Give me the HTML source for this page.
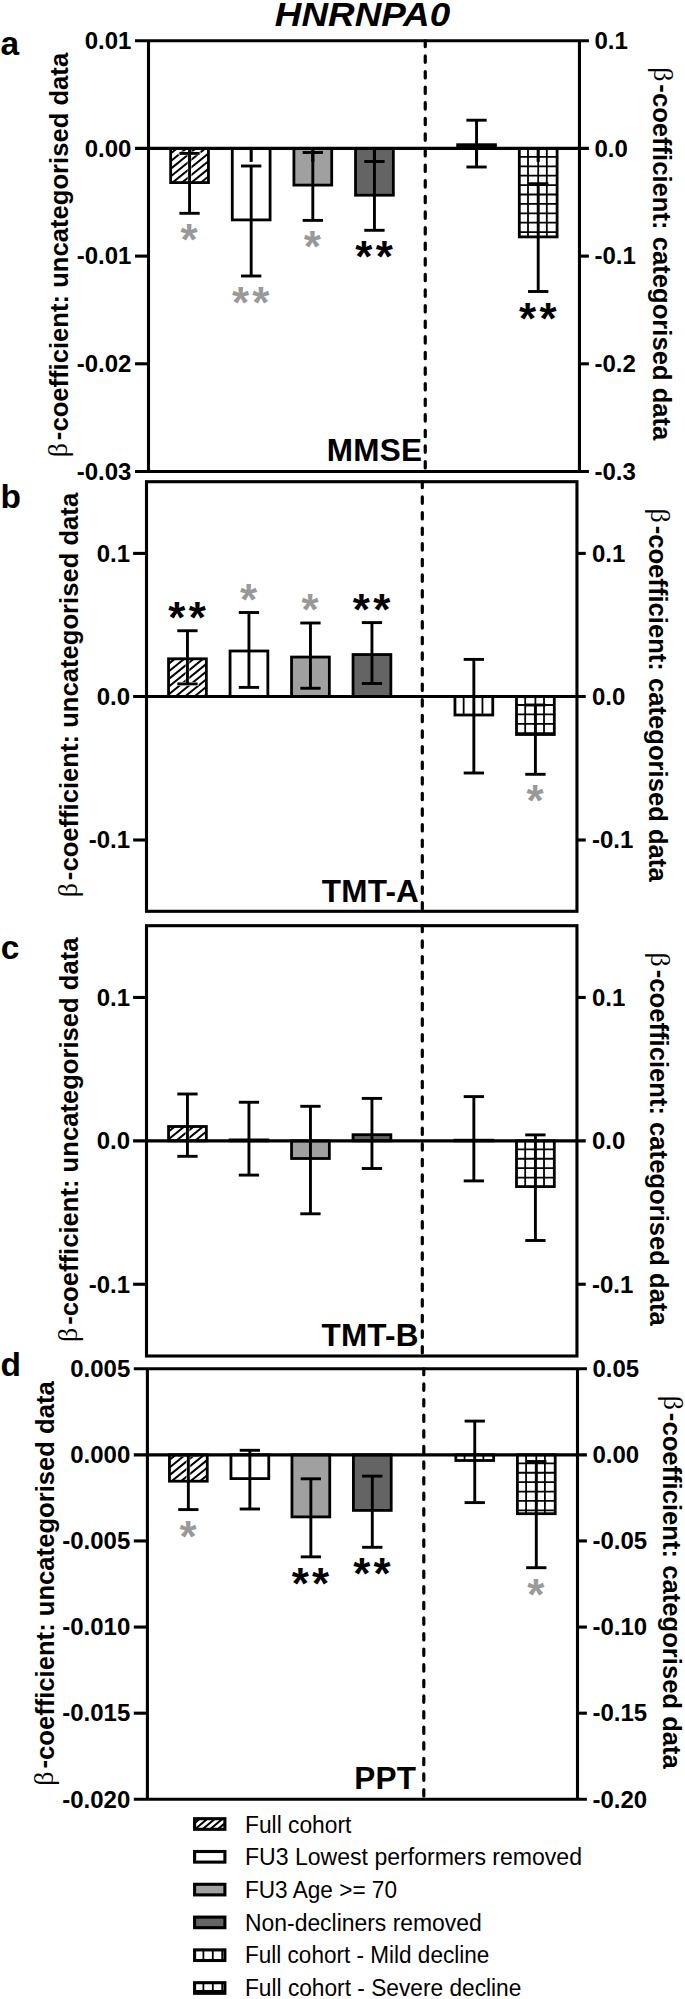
<!DOCTYPE html>
<html lang="en"><head><meta charset="utf-8"><title>HNRNPA0</title>
<style>
html,body{margin:0;padding:0;background:#fff;}
body{width:685px;height:1999px;overflow:hidden;}
svg{display:block;}
svg text{font-family:'Liberation Sans', Arial, Helvetica, sans-serif;}
</style></head><body>
<svg width="685" height="1999" viewBox="0 0 685 1999">
<rect width="685" height="1999" fill="#fff"/>
<text transform="translate(362.50,26.20) scale(1.084,1)" font-size="34" font-weight="bold" text-anchor="middle" fill="#000" style="font-style:italic">HNRNPA0</text>
<g id="panel-a">
<rect x="170.65" y="148.40" width="37.80" height="34.20" fill="#fff"/>
<clipPath id="cp1"><rect x="170.65" y="148.40" width="37.80" height="34.20"/></clipPath>
<g clip-path="url(#cp1)" stroke="#000" fill="none">
<path d="M169.25 147.00L211.85 112.50M169.25 154.65L211.85 120.15M169.25 162.30L211.85 127.80M169.25 169.95L211.85 135.45M169.25 177.60L211.85 143.10M169.25 185.25L211.85 150.75M169.25 192.90L211.85 158.40M169.25 200.55L211.85 166.05M169.25 208.20L211.85 173.70M169.25 215.85L211.85 181.35M169.25 223.50L211.85 189.00" stroke-width="2.0"/>
<path d="M189.55 153.40V213.30M178.50 153.40H200.60M178.50 213.30H200.60" stroke="#fff" stroke-width="3.8"/>
</g>
<rect x="170.65" y="148.40" width="37.80" height="34.20" fill="none" stroke="#000" stroke-width="2.8"/>
<line x1="189.55" y1="148.40" x2="189.55" y2="161.90" stroke="#000" stroke-width="3.1" />
<rect x="232.28" y="148.40" width="37.80" height="71.50" fill="#fff"/>
<rect x="232.28" y="148.40" width="37.80" height="71.50" fill="none" stroke="#000" stroke-width="2.8"/>
<line x1="251.18" y1="148.40" x2="251.18" y2="161.90" stroke="#000" stroke-width="3.1" />
<rect x="293.91" y="148.40" width="37.80" height="36.70" fill="#a0a0a0"/>
<rect x="293.91" y="148.40" width="37.80" height="36.70" fill="none" stroke="#000" stroke-width="2.8"/>
<line x1="312.81" y1="148.40" x2="312.81" y2="161.90" stroke="#000" stroke-width="3.1" />
<rect x="355.54" y="148.40" width="37.80" height="46.80" fill="#646464"/>
<rect x="355.54" y="148.40" width="37.80" height="46.80" fill="none" stroke="#000" stroke-width="2.8"/>
<line x1="374.44" y1="148.40" x2="374.44" y2="161.90" stroke="#000" stroke-width="3.1" />
<rect x="457.65" y="144.70" width="37.80" height="3.70" fill="#000"/>
<rect x="457.65" y="144.70" width="37.80" height="3.70" fill="none" stroke="#000" stroke-width="2.8"/>
<line x1="476.55" y1="148.40" x2="476.55" y2="161.90" stroke="#000" stroke-width="3.1" />
<rect x="519.30" y="148.40" width="37.80" height="88.50" fill="#fff"/>
<clipPath id="cp2"><rect x="519.30" y="148.40" width="37.80" height="88.50"/></clipPath>
<g clip-path="url(#cp2)" stroke="#000" fill="none">
<path d="M528.00 148.40V236.90M538.20 148.40V236.90M546.81 148.40V236.90M519.30 156.90H557.10M519.30 166.30H557.10M519.30 175.70H557.10M519.30 185.10H557.10M519.30 194.50H557.10M519.30 203.90H557.10M519.30 213.30H557.10M519.30 222.70H557.10M519.30 232.10H557.10" stroke-width="1.8"/>
</g>
<rect x="519.30" y="148.40" width="37.80" height="88.50" fill="none" stroke="#000" stroke-width="2.8"/>
<line x1="538.20" y1="148.40" x2="538.20" y2="161.90" stroke="#000" stroke-width="3.1" />
<line x1="135.00" y1="40.70" x2="588.90" y2="40.70" stroke="#000" stroke-width="3.1" />
<line x1="135.00" y1="471.50" x2="588.90" y2="471.50" stroke="#000" stroke-width="3.1" />
<line x1="148.50" y1="40.70" x2="148.50" y2="471.50" stroke="#000" stroke-width="3.1" />
<line x1="579.45" y1="40.70" x2="579.45" y2="471.50" stroke="#000" stroke-width="3.1" />
<line x1="135.00" y1="148.40" x2="588.90" y2="148.40" stroke="#000" stroke-width="3.1" />
<text transform="translate(131.40,49.00) scale(1.0,1)" font-size="24" font-weight="bold" text-anchor="end" fill="#000">0.01</text>
<text transform="translate(594.45,49.00) scale(1.0,1)" font-size="24" font-weight="bold" text-anchor="start" fill="#000">0.1</text>
<text transform="translate(131.40,156.70) scale(1.0,1)" font-size="24" font-weight="bold" text-anchor="end" fill="#000">0.00</text>
<text transform="translate(594.45,156.70) scale(1.0,1)" font-size="24" font-weight="bold" text-anchor="start" fill="#000">0.0</text>
<line x1="135.00" y1="256.10" x2="148.50" y2="256.10" stroke="#000" stroke-width="3.1" />
<line x1="579.45" y1="256.10" x2="588.90" y2="256.10" stroke="#000" stroke-width="3.1" />
<text transform="translate(131.40,264.40) scale(1.0,1)" font-size="24" font-weight="bold" text-anchor="end" fill="#000">-0.01</text>
<text transform="translate(594.45,264.40) scale(1.0,1)" font-size="24" font-weight="bold" text-anchor="start" fill="#000">-0.1</text>
<line x1="135.00" y1="363.80" x2="148.50" y2="363.80" stroke="#000" stroke-width="3.1" />
<line x1="579.45" y1="363.80" x2="588.90" y2="363.80" stroke="#000" stroke-width="3.1" />
<text transform="translate(131.40,372.10) scale(1.0,1)" font-size="24" font-weight="bold" text-anchor="end" fill="#000">-0.02</text>
<text transform="translate(594.45,372.10) scale(1.0,1)" font-size="24" font-weight="bold" text-anchor="start" fill="#000">-0.2</text>
<text transform="translate(131.40,479.80) scale(1.0,1)" font-size="24" font-weight="bold" text-anchor="end" fill="#000">-0.03</text>
<text transform="translate(594.45,479.80) scale(1.0,1)" font-size="24" font-weight="bold" text-anchor="start" fill="#000">-0.3</text>
<line x1="425.25" y1="40.900000000000006" x2="425.25" y2="471.5" stroke="#000" stroke-width="3.2" stroke-linecap="round" stroke-dasharray="6.4 9.2" stroke-dashoffset="0.6"/>
<line x1="189.55" y1="153.40" x2="189.55" y2="213.30" stroke="#000" stroke-width="2.9" />
<line x1="179.40" y1="153.40" x2="199.70" y2="153.40" stroke="#000" stroke-width="2.9" />
<line x1="179.40" y1="213.30" x2="199.70" y2="213.30" stroke="#000" stroke-width="2.9" />
<line x1="251.18" y1="166.00" x2="251.18" y2="276.00" stroke="#000" stroke-width="2.9" />
<line x1="241.03" y1="166.00" x2="261.33" y2="166.00" stroke="#000" stroke-width="2.9" />
<line x1="241.03" y1="276.00" x2="261.33" y2="276.00" stroke="#000" stroke-width="2.9" />
<line x1="312.81" y1="152.50" x2="312.81" y2="220.40" stroke="#000" stroke-width="2.9" />
<line x1="302.66" y1="152.50" x2="322.96" y2="152.50" stroke="#000" stroke-width="2.9" />
<line x1="302.66" y1="220.40" x2="322.96" y2="220.40" stroke="#000" stroke-width="2.9" />
<line x1="374.44" y1="161.50" x2="374.44" y2="230.30" stroke="#000" stroke-width="2.9" />
<line x1="364.29" y1="161.50" x2="384.59" y2="161.50" stroke="#000" stroke-width="2.9" />
<line x1="364.29" y1="230.30" x2="384.59" y2="230.30" stroke="#000" stroke-width="2.9" />
<line x1="476.55" y1="120.20" x2="476.55" y2="167.00" stroke="#000" stroke-width="2.9" />
<line x1="466.40" y1="120.20" x2="486.70" y2="120.20" stroke="#000" stroke-width="2.9" />
<line x1="466.40" y1="167.00" x2="486.70" y2="167.00" stroke="#000" stroke-width="2.9" />
<line x1="538.20" y1="183.70" x2="538.20" y2="291.50" stroke="#000" stroke-width="2.9" />
<line x1="528.05" y1="183.70" x2="548.35" y2="183.70" stroke="#000" stroke-width="2.9" />
<line x1="528.05" y1="291.50" x2="548.35" y2="291.50" stroke="#000" stroke-width="2.9" />
<text transform="translate(189.15,255.39) scale(1.0,1)" font-size="44" font-weight="bold" text-anchor="middle" fill="#999">*</text>
<text transform="translate(240.63,318.09) scale(1.0,1)" font-size="44" font-weight="bold" text-anchor="middle" fill="#999">*</text>
<text transform="translate(260.93,318.09) scale(1.0,1)" font-size="44" font-weight="bold" text-anchor="middle" fill="#999">*</text>
<text transform="translate(312.41,262.49) scale(1.0,1)" font-size="44" font-weight="bold" text-anchor="middle" fill="#999">*</text>
<text transform="translate(363.89,272.39) scale(1.0,1)" font-size="44" font-weight="bold" text-anchor="middle" fill="#000">*</text>
<text transform="translate(384.19,272.39) scale(1.0,1)" font-size="44" font-weight="bold" text-anchor="middle" fill="#000">*</text>
<text transform="translate(527.65,333.59) scale(1.0,1)" font-size="44" font-weight="bold" text-anchor="middle" fill="#000">*</text>
<text transform="translate(547.95,333.59) scale(1.0,1)" font-size="44" font-weight="bold" text-anchor="middle" fill="#000">*</text>
<text transform="translate(374.50,461.20) scale(1.0,1)" font-size="31.5" font-weight="bold" text-anchor="middle" fill="#000" letter-spacing="0.2">MMSE</text>
<text transform="translate(0.50,55.00) scale(1.0,1)" font-size="33.5" font-weight="bold" text-anchor="start" fill="#000">a</text>
<text transform="translate(68.0,457.3) rotate(-90)" font-size="25.63" font-weight="bold"><tspan font-family="'Liberation Serif','DejaVu Serif',serif" font-weight="normal" font-size="28" dy="-1.2">β</tspan><tspan dx="2.9" dy="-0.6">-</tspan><tspan dy="1.8">coefficient: uncategorised data</tspan></text>
<text transform="translate(653.0,67.2) rotate(90)" font-size="25.63" font-weight="bold"><tspan font-family="'Liberation Serif','DejaVu Serif',serif" font-weight="normal" font-size="28" dy="-1.2">β</tspan><tspan dx="2.9" dy="-0.6">-</tspan><tspan dy="1.8">coefficient: categorised data</tspan></text>
</g>
<g id="panel-b">
<rect x="168.55" y="658.80" width="37.80" height="37.70" fill="#fff"/>
<clipPath id="cp3"><rect x="168.55" y="658.80" width="37.80" height="37.70"/></clipPath>
<g clip-path="url(#cp3)" stroke="#000" fill="none">
<path d="M167.15 657.40L209.75 622.90M167.15 665.05L209.75 630.55M167.15 672.70L209.75 638.20M167.15 680.35L209.75 645.85M167.15 688.00L209.75 653.50M167.15 695.65L209.75 661.15M167.15 703.30L209.75 668.80M167.15 710.95L209.75 676.45M167.15 718.60L209.75 684.10M167.15 726.25L209.75 691.75M167.15 733.90L209.75 699.40M167.15 741.55L209.75 707.05" stroke-width="2.0"/>
<path d="M187.45 630.75V683.90M176.40 630.75H198.50M176.40 683.90H198.50" stroke="#fff" stroke-width="3.8"/>
</g>
<rect x="168.55" y="658.80" width="37.80" height="37.70" fill="none" stroke="#000" stroke-width="2.8"/>
<rect x="230.05" y="651.00" width="37.80" height="45.50" fill="#fff"/>
<rect x="230.05" y="651.00" width="37.80" height="45.50" fill="none" stroke="#000" stroke-width="2.8"/>
<rect x="291.55" y="657.05" width="37.80" height="39.45" fill="#a0a0a0"/>
<rect x="291.55" y="657.05" width="37.80" height="39.45" fill="none" stroke="#000" stroke-width="2.8"/>
<rect x="353.05" y="654.55" width="37.80" height="41.95" fill="#646464"/>
<rect x="353.05" y="654.55" width="37.80" height="41.95" fill="none" stroke="#000" stroke-width="2.8"/>
<rect x="454.95" y="696.50" width="37.80" height="18.50" fill="#fff"/>
<clipPath id="cp4"><rect x="454.95" y="696.50" width="37.80" height="18.50"/></clipPath>
<g clip-path="url(#cp4)" stroke="#000" fill="none">
<path d="M463.65 696.50V715.00M473.85 696.50V715.00M482.46 696.50V715.00" stroke-width="1.8"/>
</g>
<rect x="454.95" y="696.50" width="37.80" height="18.50" fill="none" stroke="#000" stroke-width="2.8"/>
<rect x="516.50" y="696.50" width="37.80" height="38.00" fill="#fff"/>
<clipPath id="cp5"><rect x="516.50" y="696.50" width="37.80" height="38.00"/></clipPath>
<g clip-path="url(#cp5)" stroke="#000" fill="none">
<path d="M525.20 696.50V734.50M535.40 696.50V734.50M544.01 696.50V734.50M516.50 705.00H554.30M516.50 714.40H554.30M516.50 723.80H554.30M516.50 733.20H554.30" stroke-width="1.8"/>
</g>
<rect x="516.50" y="696.50" width="37.80" height="38.00" fill="none" stroke="#000" stroke-width="2.8"/>
<rect x="146.5" y="481.7" width="430.45000000000005" height="429.59999999999997" fill="none" stroke="#000" stroke-width="3.1"/>
<line x1="133.10" y1="696.50" x2="585.75" y2="696.50" stroke="#000" stroke-width="3.1" />
<line x1="133.10" y1="553.40" x2="146.50" y2="553.40" stroke="#000" stroke-width="3.1" />
<line x1="576.95" y1="553.40" x2="585.75" y2="553.40" stroke="#000" stroke-width="3.1" />
<text transform="translate(130.00,561.70) scale(1.0,1)" font-size="24" font-weight="bold" text-anchor="end" fill="#000">0.1</text>
<text transform="translate(591.95,561.70) scale(1.0,1)" font-size="24" font-weight="bold" text-anchor="start" fill="#000">0.1</text>
<text transform="translate(130.00,704.80) scale(1.0,1)" font-size="24" font-weight="bold" text-anchor="end" fill="#000">0.0</text>
<text transform="translate(591.95,704.80) scale(1.0,1)" font-size="24" font-weight="bold" text-anchor="start" fill="#000">0.0</text>
<line x1="133.10" y1="840.00" x2="146.50" y2="840.00" stroke="#000" stroke-width="3.1" />
<line x1="576.95" y1="840.00" x2="585.75" y2="840.00" stroke="#000" stroke-width="3.1" />
<text transform="translate(130.00,848.30) scale(1.0,1)" font-size="24" font-weight="bold" text-anchor="end" fill="#000">-0.1</text>
<text transform="translate(591.95,848.30) scale(1.0,1)" font-size="24" font-weight="bold" text-anchor="start" fill="#000">-0.1</text>
<line x1="422.3" y1="481.9" x2="422.3" y2="911.3" stroke="#000" stroke-width="3.2" stroke-linecap="round" stroke-dasharray="6.4 9.2" stroke-dashoffset="0.6"/>
<line x1="187.45" y1="630.75" x2="187.45" y2="683.90" stroke="#000" stroke-width="2.9" />
<line x1="177.30" y1="630.75" x2="197.60" y2="630.75" stroke="#000" stroke-width="2.9" />
<line x1="177.30" y1="683.90" x2="197.60" y2="683.90" stroke="#000" stroke-width="2.9" />
<line x1="248.95" y1="612.50" x2="248.95" y2="687.40" stroke="#000" stroke-width="2.9" />
<line x1="238.80" y1="612.50" x2="259.10" y2="612.50" stroke="#000" stroke-width="2.9" />
<line x1="238.80" y1="687.40" x2="259.10" y2="687.40" stroke="#000" stroke-width="2.9" />
<line x1="310.45" y1="623.00" x2="310.45" y2="688.25" stroke="#000" stroke-width="2.9" />
<line x1="300.30" y1="623.00" x2="320.60" y2="623.00" stroke="#000" stroke-width="2.9" />
<line x1="300.30" y1="688.25" x2="320.60" y2="688.25" stroke="#000" stroke-width="2.9" />
<line x1="371.95" y1="622.60" x2="371.95" y2="683.50" stroke="#000" stroke-width="2.9" />
<line x1="361.80" y1="622.60" x2="382.10" y2="622.60" stroke="#000" stroke-width="2.9" />
<line x1="361.80" y1="683.50" x2="382.10" y2="683.50" stroke="#000" stroke-width="2.9" />
<line x1="473.85" y1="659.40" x2="473.85" y2="773.00" stroke="#000" stroke-width="2.9" />
<line x1="463.70" y1="659.40" x2="484.00" y2="659.40" stroke="#000" stroke-width="2.9" />
<line x1="463.70" y1="773.00" x2="484.00" y2="773.00" stroke="#000" stroke-width="2.9" />
<line x1="535.40" y1="705.00" x2="535.40" y2="774.30" stroke="#000" stroke-width="2.9" />
<line x1="525.25" y1="705.00" x2="545.55" y2="705.00" stroke="#000" stroke-width="2.9" />
<line x1="525.25" y1="774.30" x2="545.55" y2="774.30" stroke="#000" stroke-width="2.9" />
<text transform="translate(176.90,632.84) scale(1.0,1)" font-size="44" font-weight="bold" text-anchor="middle" fill="#000">*</text>
<text transform="translate(197.20,632.84) scale(1.0,1)" font-size="44" font-weight="bold" text-anchor="middle" fill="#000">*</text>
<text transform="translate(248.55,614.59) scale(1.0,1)" font-size="44" font-weight="bold" text-anchor="middle" fill="#999">*</text>
<text transform="translate(310.05,625.09) scale(1.0,1)" font-size="44" font-weight="bold" text-anchor="middle" fill="#999">*</text>
<text transform="translate(361.40,624.69) scale(1.0,1)" font-size="44" font-weight="bold" text-anchor="middle" fill="#000">*</text>
<text transform="translate(381.70,624.69) scale(1.0,1)" font-size="44" font-weight="bold" text-anchor="middle" fill="#000">*</text>
<text transform="translate(535.00,816.39) scale(1.0,1)" font-size="44" font-weight="bold" text-anchor="middle" fill="#999">*</text>
<text transform="translate(370.40,901.60) scale(1.0,1)" font-size="31.5" font-weight="bold" text-anchor="middle" fill="#000" letter-spacing="0.2">TMT-A</text>
<text transform="translate(0.50,508.00) scale(1.0,1)" font-size="33.5" font-weight="bold" text-anchor="start" fill="#000">b</text>
<text transform="translate(78.3,897.3) rotate(-90)" font-size="25.63" font-weight="bold"><tspan font-family="'Liberation Serif','DejaVu Serif',serif" font-weight="normal" font-size="28" dy="-1.2">β</tspan><tspan dx="2.9" dy="-0.6">-</tspan><tspan dy="1.8">coefficient: uncategorised data</tspan></text>
<text transform="translate(649.4,508.5) rotate(90)" font-size="25.63" font-weight="bold"><tspan font-family="'Liberation Serif','DejaVu Serif',serif" font-weight="normal" font-size="28" dy="-1.2">β</tspan><tspan dx="2.9" dy="-0.6">-</tspan><tspan dy="1.8">coefficient: categorised data</tspan></text>
</g>
<g id="panel-c">
<rect x="168.55" y="1126.50" width="37.80" height="14.35" fill="#fff"/>
<clipPath id="cp6"><rect x="168.55" y="1126.50" width="37.80" height="14.35"/></clipPath>
<g clip-path="url(#cp6)" stroke="#000" fill="none">
<path d="M167.15 1125.10L209.75 1090.60M167.15 1132.75L209.75 1098.25M167.15 1140.40L209.75 1105.90M167.15 1148.05L209.75 1113.55M167.15 1155.70L209.75 1121.20M167.15 1163.35L209.75 1128.85M167.15 1171.00L209.75 1136.50M167.15 1178.65L209.75 1144.15M167.15 1186.30L209.75 1151.80" stroke-width="2.0"/>
<path d="M187.45 1094.00V1156.30M176.40 1094.00H198.50M176.40 1156.30H198.50" stroke="#fff" stroke-width="3.8"/>
</g>
<rect x="168.55" y="1126.50" width="37.80" height="14.35" fill="none" stroke="#000" stroke-width="2.8"/>
<rect x="230.05" y="1139.90" width="37.80" height="0.95" fill="#fff"/>
<rect x="230.05" y="1139.90" width="37.80" height="0.95" fill="none" stroke="#000" stroke-width="2.8"/>
<rect x="291.55" y="1140.85" width="37.80" height="17.65" fill="#a0a0a0"/>
<rect x="291.55" y="1140.85" width="37.80" height="17.65" fill="none" stroke="#000" stroke-width="2.8"/>
<rect x="353.05" y="1134.70" width="37.80" height="6.15" fill="#646464"/>
<rect x="353.05" y="1134.70" width="37.80" height="6.15" fill="none" stroke="#000" stroke-width="2.8"/>
<rect x="454.95" y="1140.20" width="37.80" height="0.65" fill="#000"/>
<rect x="454.95" y="1140.20" width="37.80" height="0.65" fill="none" stroke="#000" stroke-width="2.8"/>
<rect x="516.50" y="1140.85" width="37.80" height="45.75" fill="#fff"/>
<clipPath id="cp7"><rect x="516.50" y="1140.85" width="37.80" height="45.75"/></clipPath>
<g clip-path="url(#cp7)" stroke="#000" fill="none">
<path d="M525.20 1140.85V1186.60M535.40 1140.85V1186.60M544.01 1140.85V1186.60M516.50 1149.35H554.30M516.50 1158.75H554.30M516.50 1168.15H554.30M516.50 1177.55H554.30" stroke-width="1.8"/>
</g>
<rect x="516.50" y="1140.85" width="37.80" height="45.75" fill="none" stroke="#000" stroke-width="2.8"/>
<rect x="146.5" y="925.7" width="430.45000000000005" height="430.29999999999995" fill="none" stroke="#000" stroke-width="3.1"/>
<line x1="133.10" y1="1140.85" x2="585.75" y2="1140.85" stroke="#000" stroke-width="3.1" />
<line x1="133.10" y1="997.45" x2="146.50" y2="997.45" stroke="#000" stroke-width="3.1" />
<line x1="576.95" y1="997.45" x2="585.75" y2="997.45" stroke="#000" stroke-width="3.1" />
<text transform="translate(130.00,1005.75) scale(1.0,1)" font-size="24" font-weight="bold" text-anchor="end" fill="#000">0.1</text>
<text transform="translate(591.95,1005.75) scale(1.0,1)" font-size="24" font-weight="bold" text-anchor="start" fill="#000">0.1</text>
<text transform="translate(130.00,1149.15) scale(1.0,1)" font-size="24" font-weight="bold" text-anchor="end" fill="#000">0.0</text>
<text transform="translate(591.95,1149.15) scale(1.0,1)" font-size="24" font-weight="bold" text-anchor="start" fill="#000">0.0</text>
<line x1="133.10" y1="1284.25" x2="146.50" y2="1284.25" stroke="#000" stroke-width="3.1" />
<line x1="576.95" y1="1284.25" x2="585.75" y2="1284.25" stroke="#000" stroke-width="3.1" />
<text transform="translate(130.00,1292.55) scale(1.0,1)" font-size="24" font-weight="bold" text-anchor="end" fill="#000">-0.1</text>
<text transform="translate(591.95,1292.55) scale(1.0,1)" font-size="24" font-weight="bold" text-anchor="start" fill="#000">-0.1</text>
<line x1="422.3" y1="925.9000000000001" x2="422.3" y2="1356.0" stroke="#000" stroke-width="3.2" stroke-linecap="round" stroke-dasharray="6.4 9.2" stroke-dashoffset="0.6"/>
<line x1="187.45" y1="1094.00" x2="187.45" y2="1156.30" stroke="#000" stroke-width="2.9" />
<line x1="177.30" y1="1094.00" x2="197.60" y2="1094.00" stroke="#000" stroke-width="2.9" />
<line x1="177.30" y1="1156.30" x2="197.60" y2="1156.30" stroke="#000" stroke-width="2.9" />
<line x1="248.95" y1="1102.25" x2="248.95" y2="1175.10" stroke="#000" stroke-width="2.9" />
<line x1="238.80" y1="1102.25" x2="259.10" y2="1102.25" stroke="#000" stroke-width="2.9" />
<line x1="238.80" y1="1175.10" x2="259.10" y2="1175.10" stroke="#000" stroke-width="2.9" />
<line x1="310.45" y1="1106.30" x2="310.45" y2="1213.80" stroke="#000" stroke-width="2.9" />
<line x1="300.30" y1="1106.30" x2="320.60" y2="1106.30" stroke="#000" stroke-width="2.9" />
<line x1="300.30" y1="1213.80" x2="320.60" y2="1213.80" stroke="#000" stroke-width="2.9" />
<line x1="371.95" y1="1098.40" x2="371.95" y2="1168.50" stroke="#000" stroke-width="2.9" />
<line x1="361.80" y1="1098.40" x2="382.10" y2="1098.40" stroke="#000" stroke-width="2.9" />
<line x1="361.80" y1="1168.50" x2="382.10" y2="1168.50" stroke="#000" stroke-width="2.9" />
<line x1="473.85" y1="1096.60" x2="473.85" y2="1180.90" stroke="#000" stroke-width="2.9" />
<line x1="463.70" y1="1096.60" x2="484.00" y2="1096.60" stroke="#000" stroke-width="2.9" />
<line x1="463.70" y1="1180.90" x2="484.00" y2="1180.90" stroke="#000" stroke-width="2.9" />
<line x1="535.40" y1="1134.90" x2="535.40" y2="1240.50" stroke="#000" stroke-width="2.9" />
<line x1="525.25" y1="1134.90" x2="545.55" y2="1134.90" stroke="#000" stroke-width="2.9" />
<line x1="525.25" y1="1240.50" x2="545.55" y2="1240.50" stroke="#000" stroke-width="2.9" />
<text transform="translate(370.10,1346.10) scale(1.0,1)" font-size="31.5" font-weight="bold" text-anchor="middle" fill="#000" letter-spacing="0.2">TMT-B</text>
<text transform="translate(0.70,959.20) scale(1.0,1)" font-size="33.5" font-weight="bold" text-anchor="start" fill="#000">c</text>
<text transform="translate(78.3,1341.9) rotate(-90)" font-size="25.63" font-weight="bold"><tspan font-family="'Liberation Serif','DejaVu Serif',serif" font-weight="normal" font-size="28" dy="-1.2">β</tspan><tspan dx="2.9" dy="-0.6">-</tspan><tspan dy="1.8">coefficient: uncategorised data</tspan></text>
<text transform="translate(649.8,952.6) rotate(90)" font-size="25.63" font-weight="bold"><tspan font-family="'Liberation Serif','DejaVu Serif',serif" font-weight="normal" font-size="28" dy="-1.2">β</tspan><tspan dx="2.9" dy="-0.6">-</tspan><tspan dy="1.8">coefficient: categorised data</tspan></text>
</g>
<g id="panel-d">
<rect x="169.45" y="1454.85" width="37.80" height="26.35" fill="#fff"/>
<clipPath id="cp8"><rect x="169.45" y="1454.85" width="37.80" height="26.35"/></clipPath>
<g clip-path="url(#cp8)" stroke="#000" fill="none">
<path d="M168.05 1453.45L210.65 1418.95M168.05 1461.10L210.65 1426.60M168.05 1468.75L210.65 1434.25M168.05 1476.40L210.65 1441.90M168.05 1484.05L210.65 1449.55M168.05 1491.70L210.65 1457.20M168.05 1499.35L210.65 1464.85M168.05 1507.00L210.65 1472.50M168.05 1514.65L210.65 1480.15M168.05 1522.30L210.65 1487.80" stroke-width="2.0"/>
<path d="M188.35 1455.00V1509.60M177.30 1455.00H199.40M177.30 1509.60H199.40" stroke="#fff" stroke-width="3.8"/>
</g>
<rect x="169.45" y="1454.85" width="37.80" height="26.35" fill="none" stroke="#000" stroke-width="2.8"/>
<rect x="230.95" y="1454.85" width="37.80" height="23.75" fill="#fff"/>
<rect x="230.95" y="1454.85" width="37.80" height="23.75" fill="none" stroke="#000" stroke-width="2.8"/>
<rect x="291.95" y="1454.85" width="37.80" height="62.05" fill="#a0a0a0"/>
<rect x="291.95" y="1454.85" width="37.80" height="62.05" fill="none" stroke="#000" stroke-width="2.8"/>
<rect x="353.40" y="1454.85" width="37.80" height="55.55" fill="#646464"/>
<rect x="353.40" y="1454.85" width="37.80" height="55.55" fill="none" stroke="#000" stroke-width="2.8"/>
<rect x="455.85" y="1454.85" width="37.80" height="5.65" fill="#fff"/>
<clipPath id="cp9"><rect x="455.85" y="1454.85" width="37.80" height="5.65"/></clipPath>
<g clip-path="url(#cp9)" stroke="#000" fill="none">
<path d="M464.55 1454.85V1460.50M474.75 1454.85V1460.50M483.36 1454.85V1460.50" stroke-width="1.8"/>
</g>
<rect x="455.85" y="1454.85" width="37.80" height="5.65" fill="none" stroke="#000" stroke-width="2.8"/>
<rect x="517.40" y="1454.85" width="37.80" height="58.85" fill="#fff"/>
<clipPath id="cp10"><rect x="517.40" y="1454.85" width="37.80" height="58.85"/></clipPath>
<g clip-path="url(#cp10)" stroke="#000" fill="none">
<path d="M526.10 1454.85V1513.70M536.30 1454.85V1513.70M544.91 1454.85V1513.70M517.40 1463.35H555.20M517.40 1472.75H555.20M517.40 1482.15H555.20M517.40 1491.55H555.20M517.40 1500.95H555.20M517.40 1510.35H555.20" stroke-width="1.8"/>
</g>
<rect x="517.40" y="1454.85" width="37.80" height="58.85" fill="none" stroke="#000" stroke-width="2.8"/>
<line x1="133.80" y1="1368.70" x2="586.90" y2="1368.70" stroke="#000" stroke-width="3.1" />
<line x1="133.80" y1="1799.30" x2="586.90" y2="1799.30" stroke="#000" stroke-width="3.1" />
<line x1="147.40" y1="1368.70" x2="147.40" y2="1799.30" stroke="#000" stroke-width="3.1" />
<line x1="577.50" y1="1368.70" x2="577.50" y2="1799.30" stroke="#000" stroke-width="3.1" />
<line x1="133.80" y1="1454.85" x2="586.90" y2="1454.85" stroke="#000" stroke-width="3.1" />
<text transform="translate(130.30,1377.00) scale(1.0,1)" font-size="24" font-weight="bold" text-anchor="end" fill="#000">0.005</text>
<text transform="translate(592.50,1377.00) scale(1.0,1)" font-size="24" font-weight="bold" text-anchor="start" fill="#000">0.05</text>
<text transform="translate(130.30,1463.12) scale(1.0,1)" font-size="24" font-weight="bold" text-anchor="end" fill="#000">0.000</text>
<text transform="translate(592.50,1463.12) scale(1.0,1)" font-size="24" font-weight="bold" text-anchor="start" fill="#000">0.00</text>
<line x1="133.80" y1="1540.94" x2="147.40" y2="1540.94" stroke="#000" stroke-width="3.1" />
<line x1="577.50" y1="1540.94" x2="586.90" y2="1540.94" stroke="#000" stroke-width="3.1" />
<text transform="translate(130.30,1549.24) scale(1.0,1)" font-size="24" font-weight="bold" text-anchor="end" fill="#000">-0.005</text>
<text transform="translate(592.50,1549.24) scale(1.0,1)" font-size="24" font-weight="bold" text-anchor="start" fill="#000">-0.05</text>
<line x1="133.80" y1="1627.06" x2="147.40" y2="1627.06" stroke="#000" stroke-width="3.1" />
<line x1="577.50" y1="1627.06" x2="586.90" y2="1627.06" stroke="#000" stroke-width="3.1" />
<text transform="translate(130.30,1635.36) scale(1.0,1)" font-size="24" font-weight="bold" text-anchor="end" fill="#000">-0.010</text>
<text transform="translate(592.50,1635.36) scale(1.0,1)" font-size="24" font-weight="bold" text-anchor="start" fill="#000">-0.10</text>
<line x1="133.80" y1="1713.18" x2="147.40" y2="1713.18" stroke="#000" stroke-width="3.1" />
<line x1="577.50" y1="1713.18" x2="586.90" y2="1713.18" stroke="#000" stroke-width="3.1" />
<text transform="translate(130.30,1721.48) scale(1.0,1)" font-size="24" font-weight="bold" text-anchor="end" fill="#000">-0.015</text>
<text transform="translate(592.50,1721.48) scale(1.0,1)" font-size="24" font-weight="bold" text-anchor="start" fill="#000">-0.15</text>
<text transform="translate(130.30,1807.60) scale(1.0,1)" font-size="24" font-weight="bold" text-anchor="end" fill="#000">-0.020</text>
<text transform="translate(592.50,1807.60) scale(1.0,1)" font-size="24" font-weight="bold" text-anchor="start" fill="#000">-0.20</text>
<line x1="423.8" y1="1368.9" x2="423.8" y2="1799.3" stroke="#000" stroke-width="3.2" stroke-linecap="round" stroke-dasharray="6.4 9.2" stroke-dashoffset="0.6"/>
<line x1="188.35" y1="1455.00" x2="188.35" y2="1509.60" stroke="#000" stroke-width="2.9" />
<line x1="178.20" y1="1455.00" x2="198.50" y2="1455.00" stroke="#000" stroke-width="2.9" />
<line x1="178.20" y1="1509.60" x2="198.50" y2="1509.60" stroke="#000" stroke-width="2.9" />
<line x1="249.85" y1="1450.30" x2="249.85" y2="1509.00" stroke="#000" stroke-width="2.9" />
<line x1="239.70" y1="1450.30" x2="260.00" y2="1450.30" stroke="#000" stroke-width="2.9" />
<line x1="239.70" y1="1509.00" x2="260.00" y2="1509.00" stroke="#000" stroke-width="2.9" />
<line x1="310.85" y1="1478.80" x2="310.85" y2="1556.85" stroke="#000" stroke-width="2.9" />
<line x1="300.70" y1="1478.80" x2="321.00" y2="1478.80" stroke="#000" stroke-width="2.9" />
<line x1="300.70" y1="1556.85" x2="321.00" y2="1556.85" stroke="#000" stroke-width="2.9" />
<line x1="372.30" y1="1476.10" x2="372.30" y2="1547.30" stroke="#000" stroke-width="2.9" />
<line x1="362.15" y1="1476.10" x2="382.45" y2="1476.10" stroke="#000" stroke-width="2.9" />
<line x1="362.15" y1="1547.30" x2="382.45" y2="1547.30" stroke="#000" stroke-width="2.9" />
<line x1="474.75" y1="1421.10" x2="474.75" y2="1502.60" stroke="#000" stroke-width="2.9" />
<line x1="464.60" y1="1421.10" x2="484.90" y2="1421.10" stroke="#000" stroke-width="2.9" />
<line x1="464.60" y1="1502.60" x2="484.90" y2="1502.60" stroke="#000" stroke-width="2.9" />
<line x1="536.30" y1="1461.50" x2="536.30" y2="1567.70" stroke="#000" stroke-width="2.9" />
<line x1="526.15" y1="1461.50" x2="546.45" y2="1461.50" stroke="#000" stroke-width="2.9" />
<line x1="526.15" y1="1567.70" x2="546.45" y2="1567.70" stroke="#000" stroke-width="2.9" />
<text transform="translate(187.95,1551.69) scale(1.0,1)" font-size="44" font-weight="bold" text-anchor="middle" fill="#999">*</text>
<text transform="translate(300.30,1598.94) scale(1.0,1)" font-size="44" font-weight="bold" text-anchor="middle" fill="#000">*</text>
<text transform="translate(320.60,1598.94) scale(1.0,1)" font-size="44" font-weight="bold" text-anchor="middle" fill="#000">*</text>
<text transform="translate(361.75,1589.39) scale(1.0,1)" font-size="44" font-weight="bold" text-anchor="middle" fill="#000">*</text>
<text transform="translate(382.05,1589.39) scale(1.0,1)" font-size="44" font-weight="bold" text-anchor="middle" fill="#000">*</text>
<text transform="translate(535.90,1609.79) scale(1.0,1)" font-size="44" font-weight="bold" text-anchor="middle" fill="#999">*</text>
<text transform="translate(385.20,1789.00) scale(1.0,1)" font-size="31.5" font-weight="bold" text-anchor="middle" fill="#000" letter-spacing="0.2">PPT</text>
<text transform="translate(0.50,1376.30) scale(1.0,1)" font-size="33.5" font-weight="bold" text-anchor="start" fill="#000">d</text>
<text transform="translate(53.8,1785.7) rotate(-90)" font-size="25.63" font-weight="bold"><tspan font-family="'Liberation Serif','DejaVu Serif',serif" font-weight="normal" font-size="28" dy="-1.2">β</tspan><tspan dx="2.9" dy="-0.6">-</tspan><tspan dy="1.8">coefficient: uncategorised data</tspan></text>
<text transform="translate(662.9,1395.7) rotate(90)" font-size="25.63" font-weight="bold"><tspan font-family="'Liberation Serif','DejaVu Serif',serif" font-weight="normal" font-size="28" dy="-1.2">β</tspan><tspan dx="2.9" dy="-0.6">-</tspan><tspan dy="1.8">coefficient: categorised data</tspan></text>
</g>
<g id="legend">
<rect x="194.60" y="1818.70" width="30.3" height="10.6" fill="#fff"/>
<clipPath id="lg0"><rect x="194.60" y="1818.70" width="30.3" height="10.6"/></clipPath>
<g clip-path="url(#lg0)" stroke="#000" fill="none">
<path d="M157.66 1847.75L205.34 1807.75M165.26 1847.75L212.94 1807.75M172.86 1847.75L220.54 1807.75M180.46 1847.75L228.14 1807.75M188.06 1847.75L235.74 1807.75M195.66 1847.75L243.34 1807.75M203.26 1847.75L250.94 1807.75" stroke-width="2.0"/>
</g>
<rect x="194.60" y="1818.70" width="30.3" height="10.6" fill="none" stroke="#000" stroke-width="3.1"/>
<text transform="translate(245.00,1832.60) scale(0.9188,1)" font-size="24.8" font-weight="normal" text-anchor="start" fill="#000">Full cohort</text>
<rect x="194.60" y="1851.50" width="30.3" height="10.6" fill="#fff"/>
<rect x="194.60" y="1851.50" width="30.3" height="10.6" fill="none" stroke="#000" stroke-width="3.1"/>
<text transform="translate(245.00,1865.32) scale(0.9303,1)" font-size="24.8" font-weight="normal" text-anchor="start" fill="#000">FU3 Lowest performers removed</text>
<rect x="194.60" y="1884.30" width="30.3" height="10.6" fill="#a0a0a0"/>
<rect x="194.60" y="1884.30" width="30.3" height="10.6" fill="none" stroke="#000" stroke-width="3.1"/>
<text transform="translate(245.00,1898.04) scale(0.9115,1)" font-size="24.8" font-weight="normal" text-anchor="start" fill="#000">FU3 Age &gt;= 70</text>
<rect x="194.60" y="1917.10" width="30.3" height="10.6" fill="#646464"/>
<rect x="194.60" y="1917.10" width="30.3" height="10.6" fill="none" stroke="#000" stroke-width="3.1"/>
<text transform="translate(245.00,1930.76) scale(0.9242,1)" font-size="24.8" font-weight="normal" text-anchor="start" fill="#000">Non-decliners removed</text>
<rect x="194.60" y="1949.90" width="30.3" height="10.6" fill="#fff"/>
<clipPath id="lg4"><rect x="194.60" y="1949.90" width="30.3" height="10.6"/></clipPath>
<g clip-path="url(#lg4)" stroke="#000" fill="none">
<path d="M203.40 1949.90V1960.50M212.80 1949.90V1960.50M222.20 1949.90V1960.50" stroke-width="1.8"/>
</g>
<rect x="194.60" y="1949.90" width="30.3" height="10.6" fill="none" stroke="#000" stroke-width="3.1"/>
<text transform="translate(245.00,1963.48) scale(0.9097,1)" font-size="24.8" font-weight="normal" text-anchor="start" fill="#000">Full cohort - Mild decline</text>
<rect x="194.60" y="1982.70" width="30.3" height="10.6" fill="#fff"/>
<clipPath id="lg5"><rect x="194.60" y="1982.70" width="30.3" height="10.6"/></clipPath>
<g clip-path="url(#lg5)" stroke="#000" fill="none">
<path d="M203.40 1982.70V1993.30M212.80 1982.70V1993.30M222.20 1982.70V1993.30M194.60 1991.00H224.90" stroke-width="1.8"/>
</g>
<rect x="194.60" y="1982.70" width="30.3" height="10.6" fill="none" stroke="#000" stroke-width="3.1"/>
<text transform="translate(245.00,1996.20) scale(0.9161,1)" font-size="24.8" font-weight="normal" text-anchor="start" fill="#000">Full cohort - Severe decline</text>
</g>
</svg>
</body></html>
